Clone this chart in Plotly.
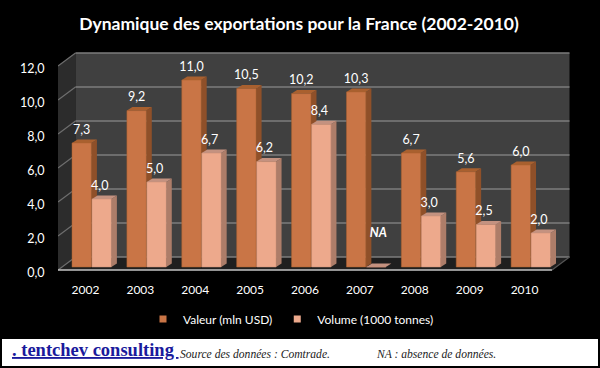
import plotly.graph_objects as go

YEARS = ["2002", "2003", "2004", "2005", "2006", "2007", "2008", "2009", "2010"]
VALEUR = [7.3, 9.2, 11.0, 10.5, 10.2, 10.3, 6.7, 5.6, 6.0]
VOLUME = [4.0, 5.0, 6.7, 6.2, 8.4, 0.0, 3.0, 2.5, 2.0]
VOLUME_LABELS = ["4,0", "5,0", "6,7", "6,2", "8,4", "", "3,0", "2,5", "2,0"]
VALEUR_LABELS = ["7,3", "9,2", "11,0", "10,5", "10,2", "10,3", "6,7", "5,6", "6,0"]
Y_TICKS = [0, 2, 4, 6, 8, 10, 12]

W, H = 600, 368
L, R, T, B = 58, 572, 50, 273       # plot area in page pixels
CAT_PX = 54.89                      # pixels per category
UNIT_PX = 17.0                      # pixels per value unit
Y0_PX = 270.0

WALL_DX, WALL_DY = 17.5 / CAT_PX, 13.0 / UNIT_PX
BAR_DX, BAR_DY = 5.5 / CAT_PX, 3.5 / UNIT_PX
BAR_BASE = 3.0 / UNIT_PX
BAR_W = 19.4 / CAT_PX
OFF_A, OFF_B = -0.068, 0.296
LABEL_DY = 0.72
LABEL_DX_B = -0.035

xr = [-0.5, -0.5 + (R - L) / CAT_PX]
yr = [(Y0_PX - B) / UNIT_PX, (Y0_PX - T) / UNIT_PX]
xs = list(range(len(YEARS)))


def px(x):
    return (x - L) / (R - L)


def py(y):
    return (B - y) / (B - T)


def poly(pts, fill, line=None, width=0):
    d = "M " + " L ".join(f"{a:.4f} {b:.4f}" for a, b in pts) + " Z"
    return dict(type="path", path=d, xref="x", yref="y", layer="below",
                fillcolor=fill, line=dict(color=line or fill, width=width))


def seg(x0, y0, x1, y1, color, width):
    return dict(type="line", x0=x0, y0=y0, x1=x1, y1=y1, xref="x", yref="y",
                layer="below", line=dict(color=color, width=width))


x_l, x_r = -0.5, 8.5
shapes = [
    poly([(x_l, 0), (x_l + WALL_DX, WALL_DY), (x_l + WALL_DX, 12 + WALL_DY), (x_l, 12)], "#2c2c2c"),
    poly([(x_l + WALL_DX, WALL_DY), (x_r + WALL_DX, WALL_DY), (x_r + WALL_DX, 12 + WALL_DY), (x_l + WALL_DX, 12 + WALL_DY)], "#404040"),
    poly([(x_l, 0), (x_r, 0), (x_r + WALL_DX, WALL_DY), (x_l + WALL_DX, WALL_DY)], "#1f1f1f"),
]
for t in Y_TICKS:
    shapes.append(seg(x_l + WALL_DX, t + WALL_DY, x_r + WALL_DX, t + WALL_DY, "#7c7c7c", 1.5))
    shapes.append(seg(x_l, t, x_l + WALL_DX, t + WALL_DY, "#6e6e6e", 1.2))
shapes.append(seg(x_l, 0, x_r, 0, "#c4c4c4", 1.5))
shapes.append(seg(x_r, 0, x_r + WALL_DX, WALL_DY, "#555555", 1.2))


def faces(values, off, side, top):
    out = []
    for i, v in zip(xs, values):
        a = i + off - BAR_W / 2
        b = i + off + BAR_W / 2
        y0, y1 = BAR_BASE, BAR_BASE + v
        out.append(poly([(b, y0), (b + BAR_DX, y0 + BAR_DY), (b + BAR_DX, y1 + BAR_DY), (b, y1)], side))
        out.append(poly([(a, y1), (b, y1), (b + BAR_DX, y1 + BAR_DY), (a + BAR_DX, y1 + BAR_DY)], top))
    return out


shapes += faces(VALEUR, OFF_A, "#8f5029", "#a9602f")
shapes += faces(VOLUME, OFF_B, "#ad7d69", "#c49280")

# footer panel
shapes.append(dict(type="rect", xref="paper", yref="paper", layer="above",
                   x0=px(2), x1=px(598), y0=py(339), y1=py(366),
                   fillcolor="#ffffff", line=dict(width=0)))

fig = go.Figure()
fig.add_bar(x=[i + OFF_A for i in xs], y=VALEUR, base=BAR_BASE, width=BAR_W,
            showlegend=False, marker=dict(color="#c97546", line=dict(color="#a9602f", width=0.5)),
            hoverinfo="skip")
fig.add_bar(x=[i + OFF_B for i in xs], y=VOLUME, base=BAR_BASE, width=BAR_W,
            showlegend=False, marker=dict(color="#eda98c", line=dict(color="#c98f76", width=0.5)),
            hoverinfo="skip")

# legend keys: empty series carrying the small square swatches
fig.add_scatter(x=[None], y=[None], mode="markers", name="Valeur (mln USD)",
                marker=dict(symbol="square", size=7, color="#c97546"), hoverinfo="skip")
fig.add_scatter(x=[None], y=[None], mode="markers", name="Volume (1000 tonnes)",
                marker=dict(symbol="square", size=7, color="#eda98c"), hoverinfo="skip")

label_font = dict(family="Lato", size=12.5, color="#ffffff")
fig.add_scatter(x=[i + OFF_A for i in xs], y=[v + BAR_BASE + LABEL_DY for v in VALEUR],
                mode="text", text=VALEUR_LABELS, textposition="middle center",
                textfont=label_font, showlegend=False, hoverinfo="skip", cliponaxis=False)
fig.add_scatter(x=[i + OFF_B + LABEL_DX_B for i in xs], y=[v + BAR_BASE + LABEL_DY for v in VOLUME],
                mode="text", text=VOLUME_LABELS, textposition="middle center",
                textfont=label_font, showlegend=False, hoverinfo="skip", cliponaxis=False)
fig.add_scatter(x=[5 + OFF_B + 0.04], y=[2.1], mode="text", text=["<b><i>NA</i></b>"],
                textposition="middle center", textfont=label_font,
                showlegend=False, hoverinfo="skip", cliponaxis=False)

annotations = [
    dict(xref="paper", yref="paper", x=px(10), y=py(350), xanchor="left", yanchor="middle",
         text="<b><u>. tentchev consulting </u></b>", showarrow=False,
         font=dict(family="Liberation Serif", size=18.5, color="#1a1a9c")),
    dict(xref="paper", yref="paper", x=px(178), y=py(354), xanchor="left", yanchor="middle",
         text="<i>Source des données : Comtrade.</i>", showarrow=False,
         font=dict(family="Liberation Serif", size=11.6, color="#222222")),
    dict(xref="paper", yref="paper", x=px(374), y=py(354), xanchor="left", yanchor="middle",
         text="<i>NA : absence de données.</i>", showarrow=False,
         font=dict(family="Liberation Serif", size=11.6, color="#222222")),
]

fig.update_layout(
    width=W, height=H, autosize=False,
    margin=dict(l=L, r=W - R, t=T, b=H - B, pad=0),
    paper_bgcolor="#000000", plot_bgcolor="#000000",
    barmode="overlay", separators=", ",
    font=dict(family="Lato", size=12, color="#ffffff"),
    title=dict(text="<b>Dynamique des exportations pour la France (2002-2010)</b>",
               x=299 / W, y=1 - 24 / H, xanchor="center", yanchor="middle",
               font=dict(family="Lato", size=17.5, color="#ffffff")),
    xaxis=dict(range=xr, tickmode="array", tickvals=xs, ticktext=YEARS, showgrid=False,
               zeroline=False, showline=False, ticks="outside", ticklen=6,
               tickcolor="rgba(0,0,0,0)", tickfont=dict(family="Lato", size=12, color="#ffffff")),
    yaxis=dict(range=yr, tickmode="array", tickvals=Y_TICKS, tickformat=".1f", showgrid=False,
               zeroline=False, showline=False, ticks="outside", ticklen=10, ticklabelshift=3,
               tickcolor="rgba(0,0,0,0)", tickfont=dict(family="Lato", size=12.5, color="#ffffff")),
    legend=dict(orientation="h", x=px(143), y=py(319), xanchor="left", yanchor="middle",
                bgcolor="rgba(0,0,0,0)", font=dict(family="Lato", size=12, color="#ffffff"),
                itemwidth=30, traceorder="normal"),
    shapes=shapes, annotations=annotations,
)
fig.write_html("out.html", config=dict(displayModeBar=False),
               post_script="document.body.style.margin='0';document.body.style.background='#000';")
